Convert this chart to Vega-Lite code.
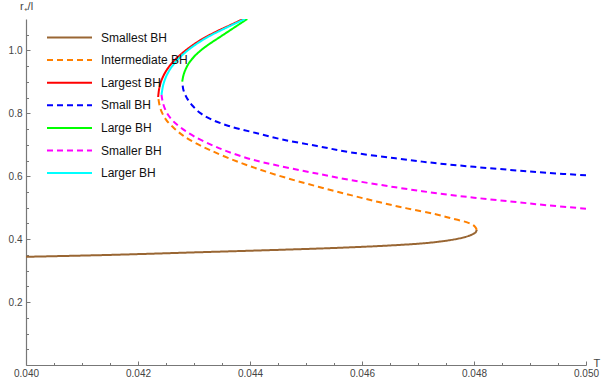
{
  "$schema": "https://vega.github.io/schema/vega-lite/v6.json",
  "width": 560,
  "height": 346,
  "autosize": {"type": "none"},
  "padding": {"left": 26, "top": 19, "right": 17, "bottom": 25},
  "background": "white",
  "config": {
    "view": {"stroke": null},
    "font": "Liberation Sans",
    "legend": {
      "title": null,
      "orient": "none",
      "legendX": 20,
      "legendY": 11.5,
      "padding": 0,
      "symbolType": "stroke",
      "symbolSize": 2025,
      "symbolStrokeWidth": 2,
      "labelFont": "Liberation Sans",
      "labelFontSize": 12,
      "labelColor": "#111111",
      "labelOffset": 8,
      "clipHeight": 14,
      "rowPadding": 8.6
    }
  },
  "data": {
    "values": [
      {"s": "Smallest BH", "T": 0.0400, "r": 0.344},
      {"s": "Smallest BH", "T": 0.0415, "r": 0.350},
      {"s": "Smallest BH", "T": 0.0430, "r": 0.358},
      {"s": "Smallest BH", "T": 0.0445, "r": 0.366},
      {"s": "Smallest BH", "T": 0.0455, "r": 0.372},
      {"s": "Smallest BH", "T": 0.0465, "r": 0.380},
      {"s": "Smallest BH", "T": 0.0471, "r": 0.387},
      {"s": "Smallest BH", "T": 0.0475, "r": 0.395},
      {"s": "Smallest BH", "T": 0.0478, "r": 0.405},
      {"s": "Smallest BH", "T": 0.04797, "r": 0.415},
      {"s": "Smallest BH", "T": 0.04803, "r": 0.422},
      {"s": "Smallest BH", "T": 0.04805, "r": 0.430},

      {"s": "Intermediate BH", "T": 0.04805, "r": 0.430},
      {"s": "Intermediate BH", "T": 0.04801, "r": 0.441},
      {"s": "Intermediate BH", "T": 0.0479, "r": 0.452},
      {"s": "Intermediate BH", "T": 0.0476, "r": 0.466},
      {"s": "Intermediate BH", "T": 0.0473, "r": 0.480},
      {"s": "Intermediate BH", "T": 0.0468, "r": 0.498},
      {"s": "Intermediate BH", "T": 0.0463, "r": 0.518},
      {"s": "Intermediate BH", "T": 0.0458, "r": 0.540},
      {"s": "Intermediate BH", "T": 0.0453, "r": 0.563},
      {"s": "Intermediate BH", "T": 0.0448, "r": 0.587},
      {"s": "Intermediate BH", "T": 0.0443, "r": 0.614},
      {"s": "Intermediate BH", "T": 0.0438, "r": 0.645},
      {"s": "Intermediate BH", "T": 0.0433, "r": 0.682},
      {"s": "Intermediate BH", "T": 0.0430, "r": 0.708},
      {"s": "Intermediate BH", "T": 0.0428, "r": 0.730},
      {"s": "Intermediate BH", "T": 0.04265, "r": 0.752},
      {"s": "Intermediate BH", "T": 0.0425, "r": 0.780},
      {"s": "Intermediate BH", "T": 0.0424, "r": 0.815},
      {"s": "Intermediate BH", "T": 0.04236, "r": 0.852},

      {"s": "Largest BH", "T": 0.04236, "r": 0.852},
      {"s": "Largest BH", "T": 0.04238, "r": 0.880},
      {"s": "Largest BH", "T": 0.04243, "r": 0.910},
      {"s": "Largest BH", "T": 0.04252, "r": 0.940},
      {"s": "Largest BH", "T": 0.04266, "r": 0.970},
      {"s": "Largest BH", "T": 0.04285, "r": 1.000},
      {"s": "Largest BH", "T": 0.04309, "r": 1.030},
      {"s": "Largest BH", "T": 0.04340, "r": 1.060},
      {"s": "Largest BH", "T": 0.04364, "r": 1.080},
      {"s": "Largest BH", "T": 0.04388, "r": 1.100},

      {"s": "Small BH", "T": 0.04279, "r": 0.901},
      {"s": "Small BH", "T": 0.04281, "r": 0.875},
      {"s": "Small BH", "T": 0.04287, "r": 0.850},
      {"s": "Small BH", "T": 0.04297, "r": 0.825},
      {"s": "Small BH", "T": 0.04312, "r": 0.800},
      {"s": "Small BH", "T": 0.04332, "r": 0.780},
      {"s": "Small BH", "T": 0.04362, "r": 0.760},
      {"s": "Small BH", "T": 0.04405, "r": 0.740},
      {"s": "Small BH", "T": 0.04455, "r": 0.718},
      {"s": "Small BH", "T": 0.0452, "r": 0.696},
      {"s": "Small BH", "T": 0.0458, "r": 0.676},
      {"s": "Small BH", "T": 0.0466, "r": 0.657},
      {"s": "Small BH", "T": 0.0473, "r": 0.642},
      {"s": "Small BH", "T": 0.0480, "r": 0.630},
      {"s": "Small BH", "T": 0.0487, "r": 0.6195},
      {"s": "Small BH", "T": 0.0493, "r": 0.611},
      {"s": "Small BH", "T": 0.0500, "r": 0.603},

      {"s": "Large BH", "T": 0.04279, "r": 0.901},
      {"s": "Large BH", "T": 0.04281, "r": 0.920},
      {"s": "Large BH", "T": 0.04285, "r": 0.940},
      {"s": "Large BH", "T": 0.04291, "r": 0.960},
      {"s": "Large BH", "T": 0.04300, "r": 0.980},
      {"s": "Large BH", "T": 0.04312, "r": 1.000},
      {"s": "Large BH", "T": 0.04327, "r": 1.020},
      {"s": "Large BH", "T": 0.04344, "r": 1.040},
      {"s": "Large BH", "T": 0.04361, "r": 1.060},
      {"s": "Large BH", "T": 0.04378, "r": 1.080},
      {"s": "Large BH", "T": 0.04395, "r": 1.100},

      {"s": "Smaller BH", "T": 0.04242, "r": 0.859},
      {"s": "Smaller BH", "T": 0.04245, "r": 0.830},
      {"s": "Smaller BH", "T": 0.04252, "r": 0.800},
      {"s": "Smaller BH", "T": 0.04263, "r": 0.775},
      {"s": "Smaller BH", "T": 0.04280, "r": 0.750},
      {"s": "Smaller BH", "T": 0.04302, "r": 0.725},
      {"s": "Smaller BH", "T": 0.04331, "r": 0.700},
      {"s": "Smaller BH", "T": 0.04358, "r": 0.680},
      {"s": "Smaller BH", "T": 0.04400, "r": 0.655},
      {"s": "Smaller BH", "T": 0.04447, "r": 0.635},
      {"s": "Smaller BH", "T": 0.0451, "r": 0.612},
      {"s": "Smaller BH", "T": 0.0458, "r": 0.588},
      {"s": "Smaller BH", "T": 0.0466, "r": 0.565},
      {"s": "Smaller BH", "T": 0.0473, "r": 0.547},
      {"s": "Smaller BH", "T": 0.0480, "r": 0.532},
      {"s": "Smaller BH", "T": 0.0487, "r": 0.519},
      {"s": "Smaller BH", "T": 0.0493, "r": 0.508},
      {"s": "Smaller BH", "T": 0.0500, "r": 0.497},

      {"s": "Larger BH", "T": 0.04242, "r": 0.859},
      {"s": "Larger BH", "T": 0.04245, "r": 0.890},
      {"s": "Larger BH", "T": 0.04251, "r": 0.920},
      {"s": "Larger BH", "T": 0.04261, "r": 0.950},
      {"s": "Larger BH", "T": 0.04276, "r": 0.980},
      {"s": "Larger BH", "T": 0.04296, "r": 1.010},
      {"s": "Larger BH", "T": 0.04322, "r": 1.040},
      {"s": "Larger BH", "T": 0.04355, "r": 1.070},
      {"s": "Larger BH", "T": 0.04391, "r": 1.100}
    ]
  },
  "layer": [
    {
      "transform": [{"filter": {"field": "s", "oneOf": ["Smallest BH", "Largest BH", "Large BH", "Larger BH"]}}],
      "mark": {"type": "line", "strokeWidth": 2, "clip": true, "interpolate": "catmull-rom"},
      "encoding": {
        "x": {
          "field": "T", "type": "quantitative",
          "scale": {"domain": [0.04, 0.05], "nice": false, "zero": false},
          "axis": {
            "orient": "bottom",
            "values": [0.040, 0.042, 0.044, 0.046, 0.048, 0.050],
            "format": ".3f",
            "labelFlush": false,
            "labelOverlap": false,
            "grid": false,
            "tickSize": -4,
            "tickColor": "#777777",
            "tickWidth": 1,
            "domainColor": "#777777",
            "domainWidth": 1.2,
            "labelFontSize": 10,
            "labelFont": "Liberation Sans",
            "labelColor": "#444444",
            "labelPadding": 7,
            "title": "T",
            "titleFont": "Liberation Sans",
            "titleFontSize": 11,
            "titleFontWeight": "normal",
            "titleColor": "#444444",
            "titleAngle": 0,
            "titleAlign": "left",
            "titleBaseline": "middle",
            "titleX": 567,
            "titleY": -2
          }
        },
        "y": {
          "field": "r", "type": "quantitative",
          "scale": {"domain": [0, 1.1], "nice": false, "zero": true},
          "axis": {
            "orient": "left",
            "values": [0.2, 0.4, 0.6, 0.8, 1.0],
            "format": ".1f",
            "labelOverlap": false,
            "labelFlush": false,
            "grid": false,
            "tickSize": -4,
            "tickColor": "#777777",
            "tickWidth": 1,
            "domainColor": "#777777",
            "domainWidth": 1.2,
            "labelFontSize": 10,
            "labelFont": "Liberation Sans",
            "labelColor": "#444444",
            "labelPadding": 8,
            "title": "r₊/l",
            "titleFont": "Liberation Sans",
            "titleFontSize": 11,
            "titleFontWeight": "normal",
            "titleColor": "#444444",
            "titleAngle": 0,
            "titleAlign": "center",
            "titleBaseline": "middle",
            "titleX": 0,
            "titleY": -13
          }
        },
        "color": {
          "field": "s", "type": "nominal",
          "scale": {
            "domain": ["Smallest BH", "Intermediate BH", "Largest BH", "Small BH", "Large BH", "Smaller BH", "Larger BH"],
            "range": ["#996633", "#FF8000", "#FF0000", "#0000FF", "#00FF00", "#FF00FF", "#00FFFF"]
          }
        },
        "strokeDash": {
          "field": "s", "type": "nominal",
          "scale": {
            "domain": ["Smallest BH", "Intermediate BH", "Largest BH", "Small BH", "Large BH", "Smaller BH", "Larger BH"],
            "range": [[1, 0], [6, 4], [1, 0], [6, 4], [1, 0], [6, 4], [1, 0]]
          }
        },
        "order": {"field": "r", "type": "quantitative"}
      }
    },
    {
      "transform": [{"filter": {"field": "s", "oneOf": ["Intermediate BH", "Small BH", "Smaller BH"]}}],
      "mark": {"type": "line", "strokeWidth": 2, "clip": true, "interpolate": "catmull-rom"},
      "encoding": {
        "x": {
          "field": "T", "type": "quantitative",
          "scale": {"domain": [0.04, 0.05], "nice": false, "zero": false},
          "axis": {
            "orient": "bottom",
            "values": [0.0405, 0.041, 0.0415, 0.0425, 0.043, 0.0435, 0.0445, 0.045, 0.0455, 0.0465, 0.047, 0.0475, 0.0485, 0.049, 0.0495],
            "labels": false,
            "domain": false,
            "grid": false,
            "tickSize": -2.5,
            "tickColor": "#777777",
            "tickWidth": 1,
            "title": null
          }
        },
        "y": {
          "field": "r", "type": "quantitative",
          "scale": {"domain": [0, 1.1], "nice": false, "zero": true},
          "axis": {
            "orient": "left",
            "values": [0.05, 0.1, 0.15, 0.25, 0.3, 0.35, 0.45, 0.5, 0.55, 0.65, 0.7, 0.75, 0.85, 0.9, 0.95, 1.05],
            "labels": false,
            "domain": false,
            "grid": false,
            "tickSize": -2.5,
            "tickColor": "#777777",
            "tickWidth": 1,
            "title": null
          }
        },
        "color": {
          "field": "s", "type": "nominal",
          "scale": {
            "domain": ["Smallest BH", "Intermediate BH", "Largest BH", "Small BH", "Large BH", "Smaller BH", "Larger BH"],
            "range": ["#996633", "#FF8000", "#FF0000", "#0000FF", "#00FF00", "#FF00FF", "#00FFFF"]
          }
        },
        "strokeDash": {
          "field": "s", "type": "nominal",
          "scale": {
            "domain": ["Smallest BH", "Intermediate BH", "Largest BH", "Small BH", "Large BH", "Smaller BH", "Larger BH"],
            "range": [[1, 0], [6, 4], [1, 0], [6, 4], [1, 0], [6, 4], [1, 0]]
          }
        },
        "order": {"field": "r", "type": "quantitative"}
      }
    }
  ],
  "resolve": {"axis": {"x": "independent", "y": "independent"}}
}
